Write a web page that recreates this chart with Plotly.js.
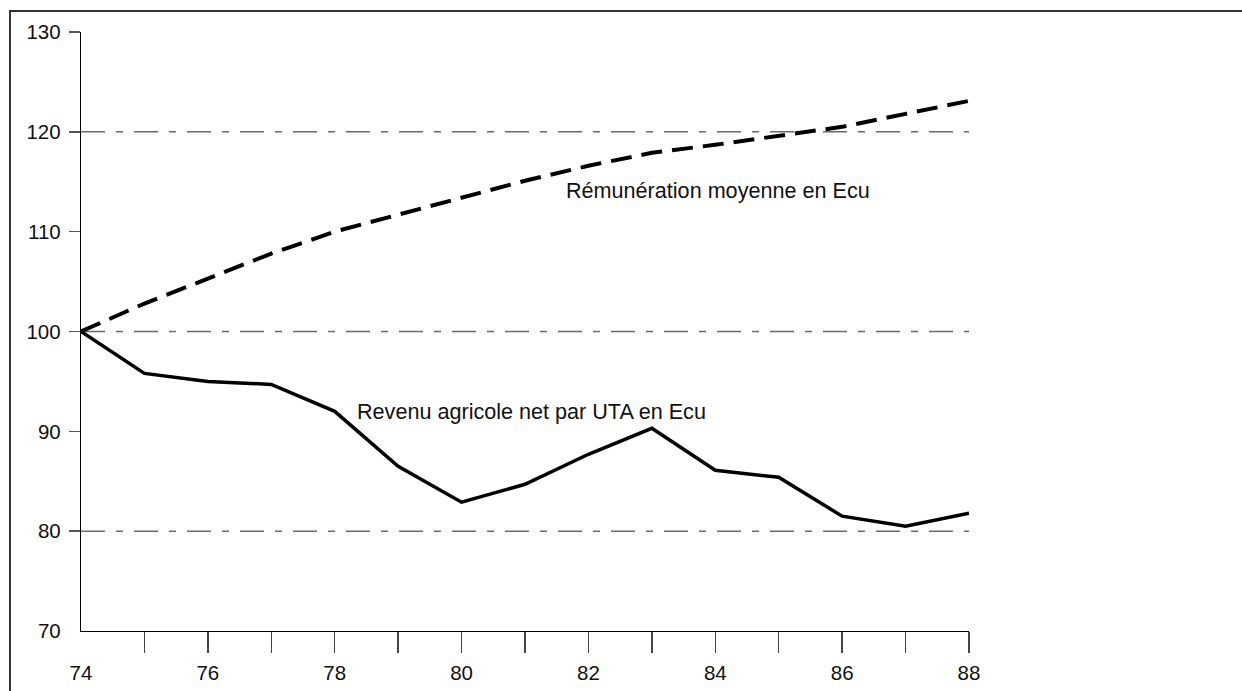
<!DOCTYPE html>
<html>
<head>
<meta charset="utf-8">
<script src="https://cdn.plot.ly/plotly-3.0.1.min.js"></script>
<style>
  html, body { margin: 0; padding: 0; background: #fff; }
  #wrap { position: relative; width: 1242px; height: 691px; overflow: hidden; }
  #chart { position: absolute; left: 0; top: 0; width: 1242px; height: 691px; }
  #frame { position: absolute; left: 9px; top: 10px; width: 1300px; height: 800px;
           border-left: 2px solid #333; border-top: 2px solid #333; pointer-events: none; }
</style>
</head>
<body>
<div id="wrap">
  <div id="chart"></div>
  <div id="frame"></div>
</div>
<script>
// Years (x axis, 1974..1988 shown as 74..88)
const years = [74, 75, 76, 77, 78, 79, 80, 81, 82, 83, 84, 85, 86, 87, 88];

// Rémunération moyenne en Ecu (index 1974 = 100) — dashed line
const remuneration = [100, 102.8, 105.3, 107.8, 110.0, 111.7, 113.4, 115.1, 116.6, 117.9, 118.7, 119.6, 120.5, 121.8, 123.1];

// Revenu agricole net par UTA en Ecu (index 1974 = 100) — solid line
const revenu = [100, 95.8, 95.0, 94.7, 92.0, 86.5, 82.9, 84.7, 87.7, 90.3, 86.1, 85.4, 81.5, 80.5, 81.8];

// Axis ticks
const xLabelVals = [74, 76, 78, 80, 82, 84, 86, 88];
const xLabelText = ['74', '76', '78', '80', '82', '84', '86', '88'];
const xTickMarks = [75, 76, 77, 78, 79, 80, 81, 82, 83, 84, 85, 86, 87, 88];
const yLabelVals = [70, 80, 90, 100, 110, 120, 130];
const yLabelText = ['70', '80', '90', '100', '110', '120', '130'];
const yTickMarks = [80, 90, 100, 110, 120, 130];

// Reference lines (dash-dot)
const gridValues = [80, 100, 120];

// Series labels
const labelTexts = ['Rémunération moyenne en Ecu', 'Revenu agricole net par UTA en Ecu'];
const labelX = [81.61, 78.32];
const labelY = [114.1, 92.0];

const FONT = '"Liberation Sans", Arial, Helvetica, sans-serif';

const traces = [
  {
    x: years, y: remuneration, type: 'scatter', mode: 'lines',
    line: { color: '#000', width: 4, dash: '21px,10px' },
    hoverinfo: 'skip'
  },
  {
    x: years, y: revenu, type: 'scatter', mode: 'lines',
    line: { color: '#000', width: 3.5 },
    hoverinfo: 'skip'
  }
];

const shapes = gridValues.map(v => ({
  type: 'line', xref: 'paper', x0: 0, x1: 1, yref: 'y', y0: v, y1: v,
  line: { color: '#6a6a6a', width: 1.5, dash: '24px,11px,7px,11px' },
  layer: 'below'
}));

const annotations = labelTexts.map((t, i) => ({
  text: t, x: labelX[i], y: labelY[i], xref: 'x', yref: 'y',
  xanchor: 'left', yanchor: 'middle', showarrow: false,
  font: { family: FONT, size: 21.6, color: '#111' }
}));

const layout = {
  width: 1242, height: 691,
  margin: { l: 81, r: 273, t: 32, b: 60, pad: 0 },
  paper_bgcolor: '#fff', plot_bgcolor: '#fff',
  showlegend: false,
  font: { family: FONT, size: 20, color: '#111' },
  xaxis: {
    range: [74, 88], showgrid: false, zeroline: false,
    showline: true, linecolor: '#000', linewidth: 1.2,
    tickmode: 'array', tickvals: xLabelVals, ticktext: xLabelText,
    ticks: '', ticklabelstandoff: 23,
    tickfont: { family: FONT, size: 20.5, color: '#111' },
    minor: { tickmode: 'array', tickvals: xTickMarks, ticks: 'outside', ticklen: 21, tickwidth: 1.5, tickcolor: '#444', showgrid: false },
    fixedrange: true
  },
  yaxis: {
    range: [70, 130], showgrid: false, zeroline: false,
    showline: true, linecolor: '#000', linewidth: 1.2,
    tickmode: 'array', tickvals: yLabelVals, ticktext: yLabelText,
    ticks: '', ticklabelstandoff: 15,
    tickfont: { family: FONT, size: 20.5, color: '#111' },
    minor: { tickmode: 'array', tickvals: yTickMarks, ticks: 'outside', ticklen: 11, tickwidth: 1.5, tickcolor: '#555', showgrid: false },
    fixedrange: true
  },
  shapes: shapes,
  annotations: annotations
};

Plotly.newPlot('chart', traces, layout, { staticPlot: true, displayModeBar: false });
</script>
</body>
</html>
